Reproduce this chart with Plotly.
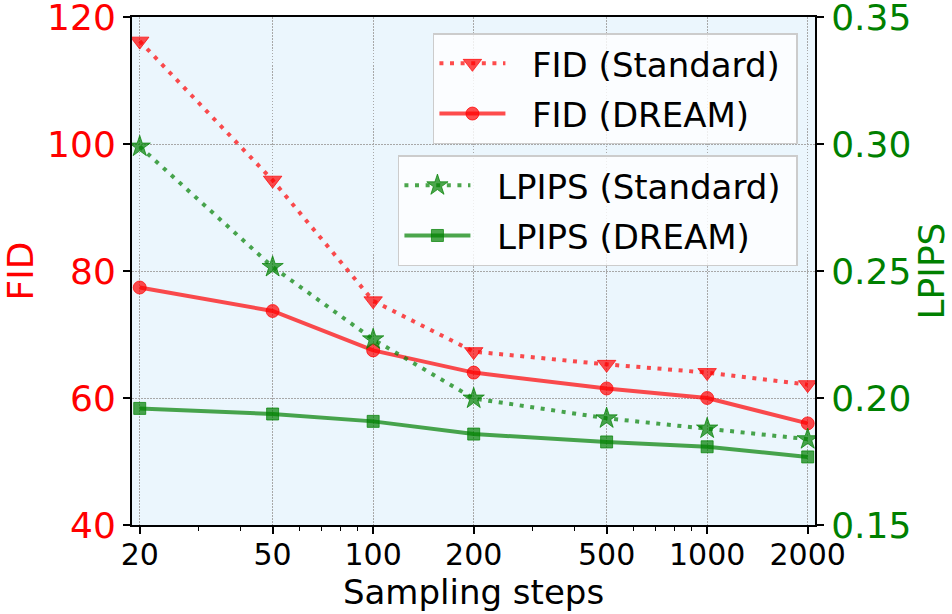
import plotly.graph_objects as go
import math

steps = [20, 50, 100, 200, 500, 1000, 2000]
step_labels = ["20", "50", "100", "200", "500", "1000", "2000"]
fid_standard = [116.2, 94.3, 75.3, 67.3, 65.3, 64.0, 62.1]
fid_dream = [77.4, 73.7, 67.5, 64.0, 61.5, 60.0, 56.0]
lpips_standard = [0.299, 0.2516, 0.2231, 0.1998, 0.1920, 0.1880, 0.1838]
lpips_dream = [0.1959, 0.1937, 0.1908, 0.1858, 0.1827, 0.1808, 0.1768]
minor_steps = [30, 40, 60, 70, 80, 90, 300, 400, 600, 700, 800, 900]
fid_ticks = [40, 60, 80, 100, 120]
lpips_ticks = [0.15, 0.20, 0.25, 0.30, 0.35]
lpips_ticktext = ["0.15", "0.20", "0.25", "0.30", "0.35"]

RED = "rgba(255,0,0,0.7)"
GREEN = "rgba(0,128,0,0.7)"
FONT = "DejaVu Sans"
DOT = "4px,6.6px"


def label(s):
    return "&nbsp;&nbsp;" + s + "&nbsp;"


fig = go.Figure()
fig.add_trace(go.Scatter(
    x=steps, y=fid_standard, name=label("FID (Standard)"), mode="lines+markers",
    line=dict(color=RED, width=4, dash=DOT),
    marker=dict(symbol="triangle-down", size=16, color=RED, line=dict(color=RED, width=1)),
    yaxis="y", legend="legend", legendgroup="a"))
fig.add_trace(go.Scatter(
    x=steps, y=fid_dream, name=label("FID (DREAM)"), mode="lines+markers",
    line=dict(color=RED, width=4),
    marker=dict(symbol="circle", size=13, color=RED, line=dict(color=RED, width=1)),
    yaxis="y", legend="legend", legendgroup="b"))
fig.add_trace(go.Scatter(
    x=steps, y=lpips_standard, name=label("LPIPS (Standard)"), mode="lines+markers",
    line=dict(color=GREEN, width=4, dash=DOT),
    marker=dict(symbol="star", size=16, color=GREEN, line=dict(color=GREEN, width=1)),
    yaxis="y2", legend="legend2", legendgroup="c"))
fig.add_trace(go.Scatter(
    x=steps, y=lpips_dream, name=label("LPIPS (DREAM)"), mode="lines+markers",
    line=dict(color=GREEN, width=4),
    marker=dict(symbol="square", size=12, color=GREEN, line=dict(color=GREEN, width=1)),
    yaxis="y2", legend="legend2", legendgroup="d"))

grid = dict(showgrid=True, gridcolor="#a8a8a8", griddash="1.5px,1.5px", gridwidth=1)
tk = dict(ticks="outside", ticklen=7, tickwidth=1.5, tickcolor="black",
          showline=True, linecolor="black", linewidth=2, zeroline=False,
          automargin=False, ticklabeloverflow="allow")
leg = dict(xanchor="right", yanchor="top",
           bgcolor="rgba(255,255,255,0.8)", bordercolor="#cccccc", borderwidth=1.5,
           font=dict(size=34, color="black", family=FONT), itemwidth=66,
           tracegroupgap=3)

fig.update_layout(
    width=952, height=614,
    margin=dict(l=132, r=137, t=17, b=89, autoexpand=False),
    paper_bgcolor="white",
    plot_bgcolor="#ebf6fd",
    font=dict(family=FONT, size=30, color="black"),
    xaxis=dict(
        type="log", range=[math.log10(20) - 0.0231, math.log10(2000) + 0.0219],
        tickmode="array", tickvals=steps, ticktext=step_labels,
        tickfont=dict(size=30, color="black"), mirror=True,
        minor=dict(tickvals=minor_steps, ticks="outside", ticklen=4, tickwidth=1, tickcolor="black", showgrid=False),
        title=dict(text="Sampling steps", font=dict(size=34, color="black"), standoff=1),
        ticklabelstandoff=-5,
        **grid, **tk,
    ),
    yaxis=dict(
        range=[40, 120], tickmode="array", tickvals=fid_ticks,
        tickfont=dict(size=36, color="red"),
        title=dict(text="FID", font=dict(size=36, color="red"), standoff=18),
        **grid, **tk,
    ),
    yaxis2=dict(
        range=[0.15, 0.35], tickmode="array", tickvals=lpips_ticks, ticktext=lpips_ticktext,
        overlaying="y", side="right",
        tickfont=dict(size=36, color="green"),
        showgrid=False,
        title=dict(text="LPIPS", font=dict(size=36, color="green"), standoff=12),
        **tk,
    ),
    legend=dict(x=0.975, y=0.968, **leg),
    legend2=dict(x=0.975, y=0.728, **leg),
)

fig.write_html("out.html", config={"displayModeBar": False},
               post_script="document.body.style.margin='0px';document.body.style.overflow='hidden';")
